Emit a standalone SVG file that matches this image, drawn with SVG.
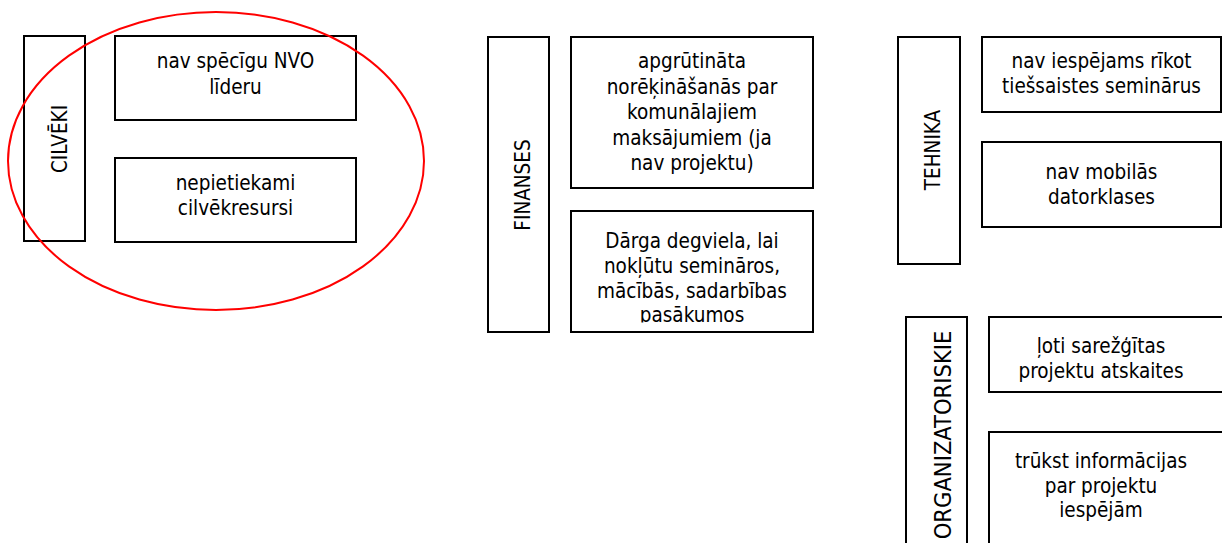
<svg xmlns="http://www.w3.org/2000/svg" width="1222" height="543" viewBox="0 0 1222 543">
<style>
.box{fill:#fff;stroke:#000;stroke-width:2}
.t{font-family:"DejaVu Sans Condensed","DejaVu Sans",sans-serif;font-stretch:condensed;font-size:20.5px;fill:#000;text-anchor:middle}
.oval{fill:none;stroke:#f00;stroke-width:2}
</style>
<defs>
<clipPath id="clipB2"><rect x="571" y="211" width="242" height="111.5"/></clipPath>
</defs>
<rect width="1222" height="543" fill="#fff"/>

<g id="cilveki">
<rect class="box" x="24" y="36" width="61" height="205"/>
<text class="t" transform="translate(67,139) rotate(-90)">CILVĒKI</text>
</g>
<g id="cilveki-1">
<rect class="box" x="115" y="36" width="241" height="84"/>
<text class="t" x="235.5" y="68">nav spēcīgu NVO</text>
<text class="t" x="235.5" y="94">līderu</text>
</g>
<g id="cilveki-2">
<rect class="box" x="115" y="158" width="241" height="84"/>
<text class="t" x="235.5" y="190">nepietiekami</text>
<text class="t" x="235.5" y="215">cilvēkresursi</text>
</g>

<g id="finanses">
<rect class="box" x="488" y="37" width="61" height="295"/>
<text class="t" transform="translate(530,185) rotate(-90)">FINANSES</text>
</g>
<g id="finanses-1">
<rect class="box" x="571" y="37" width="242" height="151"/>
<text class="t" x="692" y="68">apgrūtināta</text>
<text class="t" x="692" y="93.5">norēķināšanās par</text>
<text class="t" x="692" y="119">komunālajiem</text>
<text class="t" x="692" y="145">maksājumiem (ja</text>
<text class="t" x="692" y="170">nav projektu)</text>
</g>
<g id="finanses-2">
<rect class="box" x="571" y="211" width="242" height="121"/>
<g clip-path="url(#clipB2)">
<text class="t" x="692" y="248">Dārga degviela, lai</text>
<text class="t" x="692" y="273">nokļūtu semināros,</text>
<text class="t" x="692" y="298">mācībās, sadarbības</text>
<text class="t" x="692" y="322">pasākumos</text>
</g>
</g>

<g id="tehnika">
<rect class="box" x="898" y="37" width="62" height="227"/>
<text class="t" transform="translate(940,150) rotate(-90)">TEHNIKA</text>
</g>
<g id="tehnika-1">
<rect class="box" x="982" y="37" width="239" height="75"/>
<text class="t" x="1101.5" y="68">nav iespējams rīkot</text>
<text class="t" x="1101.5" y="93">tiešsaistes seminārus</text>
</g>
<g id="tehnika-2">
<rect class="box" x="982" y="142" width="239" height="85"/>
<text class="t" x="1101.5" y="179">nav mobilās</text>
<text class="t" x="1101.5" y="204">datorklases</text>
</g>

<g id="organizatoriskie">
<rect class="box" x="906" y="317" width="61" height="240"/>
<text class="t" style="font-size:23.5px" transform="translate(951,435) rotate(-90)">ORGANIZATORISKIE</text>
</g>
<g id="organizatoriskie-1">
<rect class="box" x="989" y="317" width="240" height="75"/>
<text class="t" x="1101" y="353">ļoti sarežģītas</text>
<text class="t" x="1101" y="378">projektu atskaites</text>
</g>
<g id="organizatoriskie-2">
<rect class="box" x="989" y="432" width="240" height="130"/>
<text class="t" x="1101" y="468">trūkst informācijas</text>
<text class="t" x="1101" y="493">par projektu</text>
<text class="t" x="1101" y="517">iespējām</text>
</g>

<g id="connectors">
<ellipse class="oval" cx="216" cy="161" rx="208" ry="149"/>
</g>
</svg>
